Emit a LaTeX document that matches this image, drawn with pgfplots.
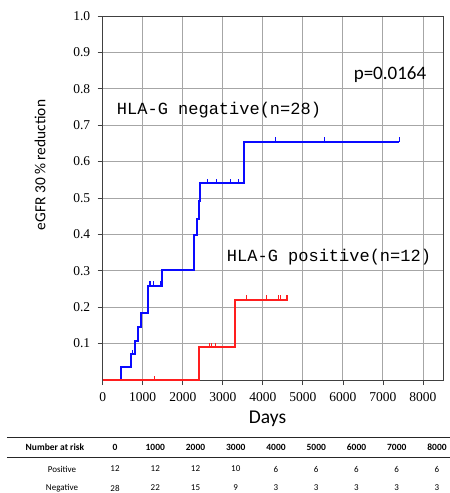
\documentclass[border=0pt]{standalone}
\usepackage{fontspec}
\setmainfont{Liberation Serif}
\newfontfamily\carlito{Carlito}
\newfontfamily\gothic{Liberation Mono}
\usepackage{pgfplots}
\pgfplotsset{compat=1.18}
\definecolor{kmblue}{RGB}{10,10,255}
\definecolor{kmred}{RGB}{255,30,30}
\pgfdeclareplotmark{cens}{\pgfpathmoveto{\pgfqpoint{0pt}{0pt}}\pgfpathlineto{\pgfqpoint{0pt}{4.5pt}}\pgfusepathqstroke}
\begin{document}
\begin{tikzpicture}
\begin{axis}[
  at={(0,0)}, anchor=south west,
  scale only axis, width=340.3pt, height=364pt,
  xmin=0, xmax=8500, ymin=0, ymax=1,
  xtick={0,1000,2000,3000,4000,5000,6000,7000,8000},
  ytick={0.1,0.2,0.3,0.4,0.5,0.6,0.7,0.8,0.9,1.0},
  grid=major,
  grid style={draw=gray!70, line width=0.9pt},
  axis line style={draw=black!75, line width=0.8pt},
  tick style={draw=black!75, line width=0.8pt},
  tick align=outside, tick pos=left,
  major tick length=5pt,
  /pgf/number format/assume math mode=true,
  scaled x ticks=false,
  ticklabel style={font=\fontsize{13.5}{15}\selectfont},
  xticklabel style={/pgf/number format/set thousands separator={}, yshift=-4pt},
  yticklabel style={/pgf/number format/fixed, /pgf/number format/fixed zerofill, /pgf/number format/precision=1, xshift=-4pt},
]
% HLA-G negative (blue)
\addplot[kmblue, line width=2pt, const plot mark left, no markers] table {
x y
0 0
457 0.0357
717 0.0714
817 0.1071
875 0.1467
950 0.1838
1125 0.259
1492 0.303
2292 0.398
2358 0.443
2408 0.491
2433 0.540
3538 0.655
7408 0.655
};
% HLA-G positive (red)
\addplot[kmred, line width=2pt, const plot mark left, no markers] table {
x y
0 0
2408 0.0905
3308 0.220
4625 0.220
};
% censor marks
\addplot[only marks, mark=cens, kmblue, mark options={line width=1.2pt}] table {
x y
750 0.0714
1183 0.259
1267 0.259
1458 0.259
2617 0.540
2833 0.540
3200 0.540
3392 0.540
4308 0.655
5533 0.655
7408 0.655
};
\addplot[only marks, mark=cens, kmred, mark options={line width=1.2pt}] table {
x y
1290 0
2658 0.0905
2725 0.0905
2808 0.0905
3583 0.220
4083 0.220
4392 0.220
4450 0.220
4600 0.220
4625 0.220
};
\end{axis}
\node[font=\gothic\fontsize{17}{20}\selectfont] at (116.3pt,270pt) {HLA-G negative(n=28)};
\node[font=\gothic\fontsize{17}{20}\selectfont] at (226.3pt,123.3pt) {HLA-G positive(n=12)};
\node[font=\carlito\fontsize{19}{22}\selectfont] at (287.3pt,305pt) {p=0.0164};
\node[rotate=90, font=\carlito\fontsize{15.4}{18}\selectfont] at (-62.7pt,215pt) {eGFR 30 \% reduction};
\node[font=\carlito\fontsize{19.5}{22}\selectfont] at (164.8pt,-39pt) {Days};
% number at risk table
\draw[line width=0.9pt, black!85] (-95.7pt,-57pt) -- (347.3pt,-57pt);
\draw[line width=0.9pt, black!85] (-95.7pt,-77pt) -- (347.3pt,-77pt);
\node[font=\carlito\bfseries\fontsize{9.5}{11}\selectfont] at (-47.7pt,-67pt) {Number at risk};
\node[font=\carlito\fontsize{9}{11}\selectfont] at (-40.7pt,-89pt) {Positive};
\node[font=\carlito\fontsize{9}{11}\selectfont] at (-40.7pt,-108pt) {Negative};
\foreach \h [count=\i from 0] in {0,1000,2000,3000,4000,5000,6000,7000,8000} {
  \node[font=\carlito\bfseries\fontsize{9.5}{11}\selectfont] at ({12.3pt+40.25pt*\i},-67pt) {\h};
}
\foreach \p [count=\i from 0] in {12,12,12,10,6,6,6,6,6} {
  \node[font=\carlito\fontsize{9}{11}\selectfont] at ({12.3pt+40.25pt*\i},-89pt) {\p};
}
\foreach \n [count=\i from 0] in {28,22,15,9,3,3,3,3,3} {
  \node[font=\carlito\fontsize{9}{11}\selectfont] at ({12.3pt+40.25pt*\i},-108pt) {\n};
}
\pgfresetboundingbox
\path[use as bounding box] (-102.7pt,-113pt) rectangle (347.3pt,380pt);
\end{tikzpicture}
\end{document}
